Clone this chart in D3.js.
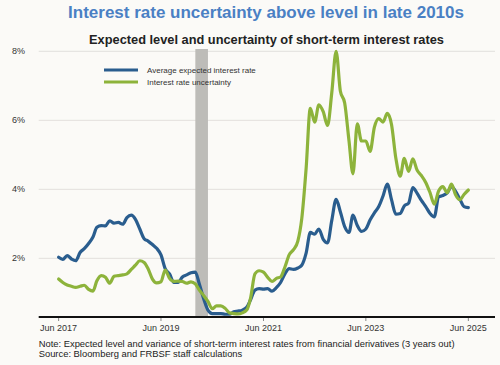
<!DOCTYPE html>
<html>
<head>
<meta charset="utf-8">
<script src="https://cdn.jsdelivr.net/npm/d3@7.9.0/dist/d3.min.js"></script>
<style>
  body { margin: 0; background: #fbfaf7; }
  svg { display: block; font-family: "Liberation Sans", Arial, sans-serif; }
</style>
</head>
<body>
<svg id="chart" width="500" height="365"></svg>
<script>
// monthly values, Jun 2017 .. Jun 2025
const startMonth = new Date(2017, 5, 1);
const avgExpected = [
  2.03, 1.97, 2.08, 1.98, 1.93, 2.17, 2.28, 2.43, 2.62, 2.90, 2.95, 2.94,
  3.09, 3.02, 3.04, 2.99, 3.18, 3.25, 3.13, 2.85, 2.57, 2.50, 2.40, 2.29,
  2.10, 1.70, 1.55, 1.30, 1.30, 1.46, 1.52, 1.58, 1.60, 1.25, 0.82, 0.50,
  0.40, 0.40, 0.40, 0.38, 0.38, 0.45, 0.47, 0.50, 0.58, 0.80, 1.08, 1.12,
  1.11, 1.12, 1.05, 1.15, 1.30, 1.55, 1.70, 1.68, 1.72, 1.80, 2.15, 2.75,
  2.70, 2.85, 2.55, 2.45, 3.10, 3.71, 3.35, 2.92, 2.75, 3.25, 2.95, 2.78,
  2.85, 3.11, 3.32, 3.50, 3.80, 4.15, 3.70, 3.28, 3.30, 3.52, 3.60, 4.05,
  3.88, 3.68, 3.50, 3.30, 3.20, 3.78, 3.82, 3.90, 4.08, 3.95, 3.72, 3.50,
  3.47
];
const uncertainty = [
  1.40, 1.30, 1.23, 1.19, 1.16, 1.19, 1.22, 1.10, 1.05, 1.35, 1.50, 1.45,
  1.28, 1.48, 1.50, 1.52, 1.55, 1.68, 1.80, 1.93, 1.88, 1.70, 1.40, 1.29,
  1.32, 1.66, 1.42, 1.33, 1.34, 1.33, 1.28, 1.32, 1.26, 1.08, 0.92, 0.75,
  0.54, 0.62, 0.62, 0.55, 0.42, 0.40, 0.39, 0.42, 0.50, 0.85, 1.55, 1.64,
  1.60, 1.45, 1.33, 1.42, 1.46, 1.75, 2.10, 2.25, 2.50, 3.15, 4.60, 6.35,
  5.95, 6.45, 6.25, 5.85, 6.80, 8.00, 6.85, 6.50, 5.40, 4.45, 5.90, 5.40,
  5.40, 5.10, 5.80, 6.05, 5.95, 6.20, 5.88, 4.90, 4.38, 4.90, 4.52, 4.88,
  4.55, 4.40, 4.20, 3.90, 3.57, 3.95, 4.08, 3.90, 4.15, 3.85, 3.70, 3.85,
  3.98
];
const yTicks = [2, 4, 6, 8];
const xTicks = [new Date(2017, 5, 1), new Date(2019, 5, 1), new Date(2021, 5, 1),
                new Date(2023, 5, 1), new Date(2025, 5, 1)];
const recession = [new Date(2020, 1, 1), new Date(2020, 4, 1)];
const seriesNames = ["Average expected interest rate", "Interest rate uncertainty"];
const colors = ["#2a5d8e", "#8db33b"];

const svg = d3.select("#chart");
const plotLeft = 38.7, plotRight = 495, plotTop = 51.3, plotBottom = 317;

const x = d3.scaleTime()
  .domain([new Date(2017, 0, 10), new Date(2025, 11, 8)])
  .range([plotLeft, plotRight]);
const y = d3.scaleLinear().domain([0.3, 8]).range([plotBottom, plotTop]);

svg.append("rect").attr("width", 500).attr("height", 365).attr("fill", "#fbfaf7");

// titles
svg.append("text").attr("x", 266).attr("y", 18)
  .attr("text-anchor", "middle").attr("font-size", 17).attr("font-weight", "bold")
  .attr("fill", "#4a80c4").text("Interest rate uncertainty above level in late 2010s");
svg.append("text").attr("x", 266.5).attr("y", 43.5)
  .attr("text-anchor", "middle").attr("font-size", 12.8).attr("font-weight", "bold")
  .attr("fill", "#222").text("Expected level and uncertainty of short-term interest rates");

// gridlines
svg.append("g").selectAll("line").data(yTicks).join("line")
  .attr("x1", plotLeft).attr("x2", plotRight)
  .attr("y1", d => y(d)).attr("y2", d => y(d))
  .attr("stroke", "#e2e0dc").attr("stroke-width", 1);

svg.append("g").selectAll("text").data(yTicks).join("text")
  .attr("x", 25).attr("y", d => y(d) + 3)
  .attr("text-anchor", "end").attr("font-size", 9).attr("fill", "#333")
  .text(d => d + "%");

// recession band
svg.append("rect")
  .attr("x", x(recession[0])).attr("width", x(recession[1]) - x(recession[0]))
  .attr("y", 49).attr("height", plotBottom - 49)
  .attr("fill", "#bdbcb8");

// lines
const dates = avgExpected.map((_, i) => d3.timeMonth.offset(startMonth, i));
const line = d3.line().x((d, i) => x(dates[i])).y(d => y(d)).curve(d3.curveMonotoneX);
[avgExpected, uncertainty].forEach((s, k) => {
  svg.append("path").datum(s)
    .attr("d", line).attr("fill", "none")
    .attr("stroke", colors[k]).attr("stroke-width", 3.2)
    .attr("stroke-linejoin", "round").attr("stroke-linecap", "round");
});

// x axis
svg.append("line").attr("x1", plotLeft).attr("x2", plotRight)
  .attr("y1", plotBottom).attr("y2", plotBottom)
  .attr("stroke", "#111").attr("stroke-width", 2);
svg.append("g").selectAll("line").data(xTicks).join("line")
  .attr("x1", d => x(d)).attr("x2", d => x(d))
  .attr("y1", plotBottom + 1).attr("y2", plotBottom + 4)
  .attr("stroke", "#888").attr("stroke-width", 1);
svg.append("g").selectAll("text").data(xTicks).join("text")
  .attr("x", d => x(d)).attr("y", 331)
  .attr("text-anchor", "middle").attr("font-size", 9).attr("fill", "#333")
  .text(d => d3.timeFormat("%b %Y")(d));

// legend
const legend = svg.append("g");
seriesNames.forEach((name, k) => {
  const ly = 70 + k * 12;
  legend.append("line").attr("x1", 104).attr("x2", 138).attr("y1", ly).attr("y2", ly)
    .attr("stroke", colors[k]).attr("stroke-width", 3);
  legend.append("text").attr("x", 147).attr("y", ly + 3)
    .attr("font-size", 8).attr("fill", "#333").text(name);
});

// notes
svg.append("text").attr("x", 38.7).attr("y", 346.5).attr("font-size", 9.4).attr("fill", "#222")
  .text("Note: Expected level and variance of short-term interest rates from financial derivatives (3 years out)");
svg.append("text").attr("x", 38.7).attr("y", 356.5).attr("font-size", 9.4).attr("fill", "#222")
  .text("Source: Bloomberg and FRBSF staff calculations");
</script>
</body>
</html>
